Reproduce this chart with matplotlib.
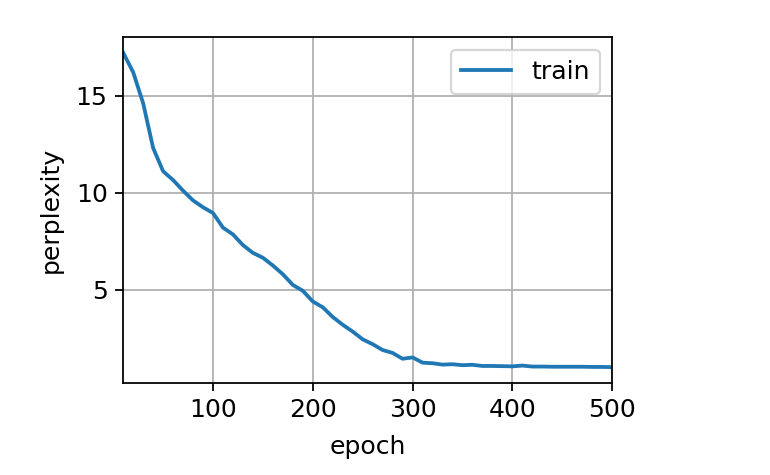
import matplotlib
matplotlib.use('Agg')
import matplotlib.pyplot as plt

# training perplexity logged every 10 epochs
epochs = list(range(10, 501, 10))
train_ppl = [17.2, 16.2, 14.6, 12.3, 11.1, 10.65, 10.1, 9.6, 9.25, 8.95,
             8.2, 7.85, 7.3, 6.9, 6.65, 6.25, 5.8, 5.25, 4.95, 4.4,
             4.1, 3.6, 3.2, 2.85, 2.45, 2.2, 1.9, 1.75, 1.45, 1.52,
             1.25, 1.22, 1.15, 1.17, 1.12, 1.14, 1.08, 1.08, 1.07, 1.06,
             1.1, 1.05, 1.05, 1.04, 1.04, 1.04, 1.04, 1.03, 1.03, 1.02]

plt.rcParams['font.size'] = 11.3

fig = plt.figure(figsize=(4.8125, 2.96875), dpi=160)
ax = fig.add_axes([0.160, 0.194, 0.635, 0.728])

ax.plot(epochs, train_ppl, color='#1f77b4', linewidth=1.7, label='train')
ax.set_xlim(10, 500)
ax.set_xlabel('epoch', labelpad=5.5)
ax.set_ylabel('perplexity', labelpad=6)
ax.set_xticks([100, 200, 300, 400, 500])
ax.set_yticks([5, 10, 15])
ax.grid(True)
ax.legend(loc='upper right')

fig.savefig('out.png', dpi=160)
